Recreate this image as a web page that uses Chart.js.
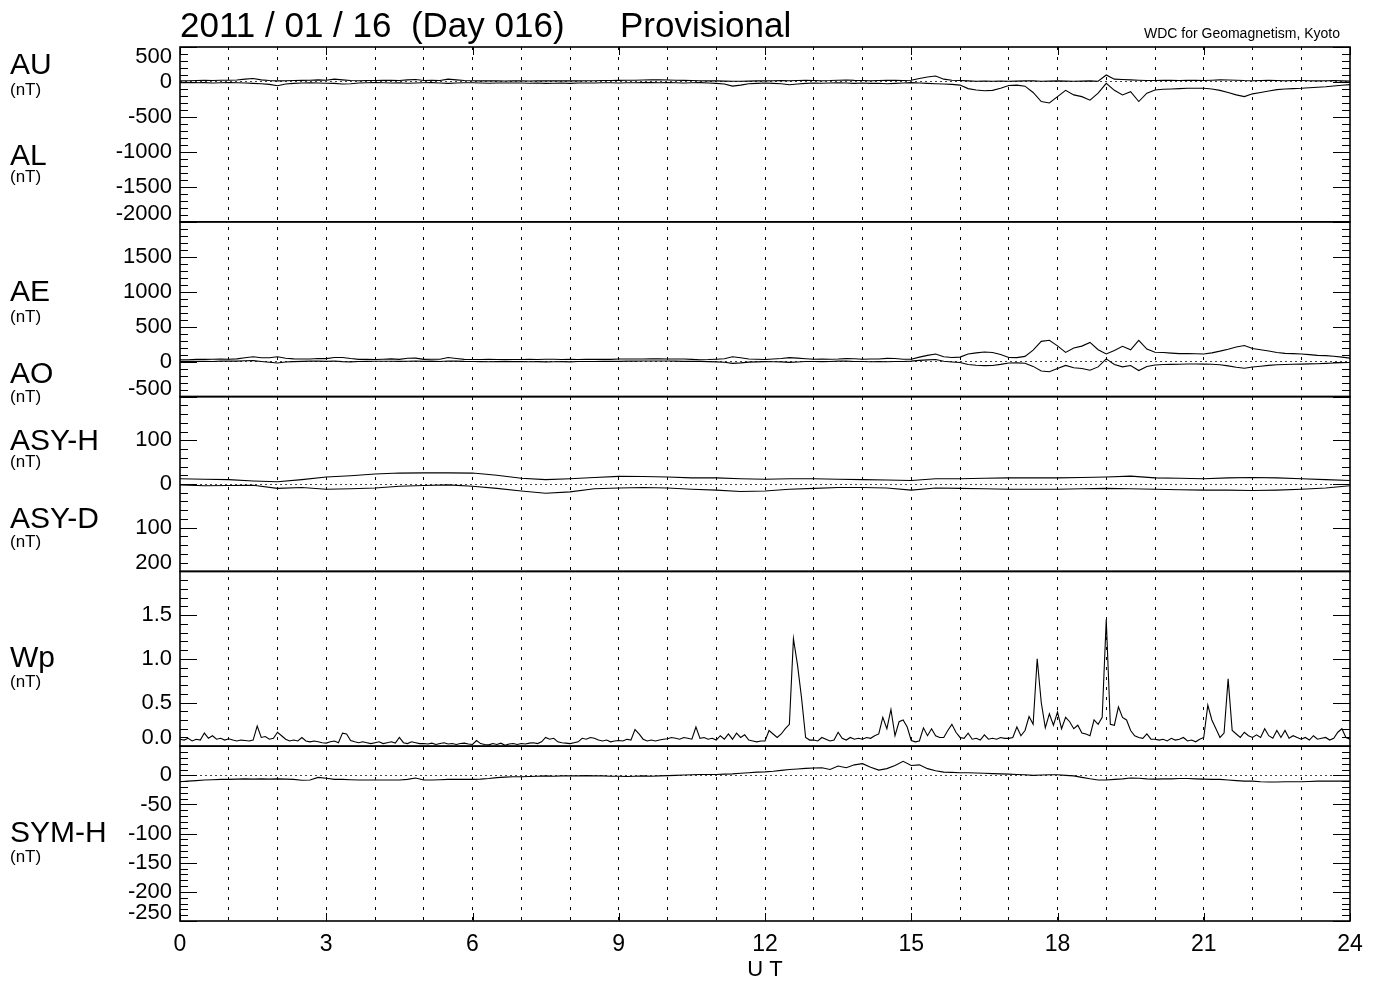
<!DOCTYPE html>
<html>
<head>
<meta charset="utf-8">
<title>AE / ASY / Wp / SYM-H 2011-01-16</title>
<script src="https://cdn.jsdelivr.net/npm/chart.js"></script>
<style>
	html, body { margin: 0; padding: 0; background: #fff; }
	#geo { display: block; }
</style>
</head>
<body>
<canvas id="geo" width="1382" height="984"></canvas>
<script>
// hours that carry a label on the UT axis
var utLabels = [0, 3, 6, 9, 12, 15, 18, 21, 24];

// y tick labels of each panel (ASY-D is drawn downward, shown without sign)
var auTicks = [500, 0, -500, -1000, -1500, -2000];
var aeTicks = [1500, 1000, 500, 0, -500];
var asyTicks = [100, 0, -100, -200];
var wpTicks = [0, 0.5, 1.0, 1.5];
var symTicks = [0, -50, -100, -150, -200, -250];

// AU (nT), every 10 min, 00:00 .. 24:00
var au = [
	15, 18, 20, 22, 20, 25,
	25, 28, 40, 50, 30, 20,
	15, 18, 20, 22, 25, 30,
	25, 40, 30, 20, 18, 20,
	20, 22, 25, 20, 30, 35,
	20, 25, 20, 40, 30, 20,
	18, 15, 15, 15, 14, 15,
	15, 14, 15, 15, 16, 15,
	15, 16, 18, 18, 20, 20,
	22, 25, 25, 28, 30, 30,
	28, 25, 22, 20, 18, 15,
	15, 12, 10, 10, 12, 15,
	15, 18, 20, 18, 20, 22,
	20, 18, 20, 25, 28, 22,
	20, 18, 20, 22, 25, 20,
	25, 50, 70, 85, 40, 25,
	20, 15, 10, 12, 10, 12,
	10, 12, 15, 15, 10, 12,
	15, 12, 10, 12, 15, 10,
	100, 40, 35, 30, 25, 20,
	20, 25, 22, 20, 25, 22,
	20, 25, 30, 28, 25, 20,
	18, 20, 22, 20, 18, 20,
	20, 18, 15, 18, 20, 15,
	12
];

// AL (nT), every 10 min
var al = [
	-10, -8, -12, -10, -15, -12,
	-10, -12, -15, -20, -25, -35,
	-55, -30, -20, -15, -12, -15,
	-18, -20, -30, -25, -15, -12,
	-10, -12, -15, -12, -18, -15,
	-12, -10, -15, -20, -15, -12,
	-12, -15, -18, -15, -15, -15,
	-15, -18, -15, -20, -18, -15,
	-20, -15, -15, -15, -12, -12,
	-15, -12, -12, -10, -10, -12,
	-10, -12, -15, -12, -10, -15,
	-20, -30, -60, -45, -25, -20,
	-15, -20, -25, -40, -30, -20,
	-15, -18, -15, -12, -15, -20,
	-15, -20, -18, -25, -20, -15,
	-10, -15, -20, -25, -30, -35,
	-45, -95, -115, -125, -120, -90,
	-50, -45, -60, -150, -280, -300,
	-210, -120, -185, -210, -260, -160,
	-20, -120, -185, -140, -280, -160,
	-115, -105, -100, -95, -90, -90,
	-90, -100, -120, -150, -185, -210,
	-170, -150, -130, -110, -100, -95,
	-90, -82, -75, -68, -58, -48,
	-38
];

// AE (nT), every 10 min
var ae = [
	25, 26, 32, 32, 35, 37,
	35, 40, 55, 70, 55, 55,
	70, 48, 40, 37, 37, 45,
	43, 60, 60, 45, 33, 32,
	30, 34, 40, 32, 48, 50,
	32, 35, 35, 60, 45, 32,
	30, 30, 33, 30, 29, 30,
	30, 32, 30, 35, 34, 30,
	35, 31, 33, 33, 32, 32,
	37, 37, 37, 38, 40, 42,
	38, 37, 37, 32, 28, 30,
	35, 42, 70, 55, 37, 35,
	30, 38, 45, 58, 50, 42,
	35, 36, 35, 37, 43, 42,
	35, 38, 38, 47, 45, 35,
	35, 65, 90, 110, 70, 60,
	65, 110, 125, 137, 130, 102,
	60, 57, 75, 165, 290, 305,
	225, 132, 195, 222, 275, 170,
	110, 160, 220, 170, 305, 180,
	135, 130, 122, 115, 115, 112,
	110, 125, 150, 178, 210, 230,
	188, 170, 152, 130, 118, 115,
	110, 100, 90, 86, 78, 64,
	50
];

// AO (nT), every 10 min
var ao = [
	3, 5, 4, 6, 3, 7,
	8, 8, 13, 15, 3, -8,
	-20, -6, 0, 4, 7, 8,
	4, 10, 0, -3, 2, 4,
	5, 5, 5, 4, 6, 10,
	4, 8, 3, 10, 8, 4,
	3, 0, -2, 0, 0, 0,
	0, -2, 0, -3, -1, 0,
	-3, 1, 2, 2, 4, 4,
	4, 7, 7, 9, 10, 9,
	9, 7, 4, 4, 4, 0,
	-3, -9, -25, -18, -7, -3,
	0, -1, -3, -11, -5, 1,
	3, 0, 3, 7, 7, 1,
	3, -1, 1, -2, 3, 3,
	8, 18, 25, 30, 5, -5,
	-13, -40, -52, -57, -55, -39,
	-20, -17, -22, -68, -135, -144,
	-98, -54, -88, -99, -123, -75,
	40, -40, -75, -55, -128, -70,
	-48, -40, -39, -37, -33, -34,
	-35, -38, -45, -61, -80, -95,
	-76, -65, -54, -45, -41, -37,
	-35, -32, -30, -25, -19, -16,
	-13
];

// ASY-H (nT), every 30 min
var asyH = [
	12, 11, 10, 7, 5, 10, 16, 19, 23, 25, 25.5, 25.5,
	25, 20, 13, 10, 12, 15, 17.5, 17, 16, 14, 14, 12,
	11, 12, 12, 11, 10, 9, 8, 12, 12, 13, 14, 14,
	14, 15, 16, 18, 14, 13, 12, 14, 15, 14, 12, 10,
	8
];

// ASY-D (nT), every 30 min
var asyD = [
	2, 4, 3.5, 3, 10, 8, 12, 11, 9, 5, 3.5, 2,
	5, 10, 16, 21, 18, 11, 9, 8, 9, 12, 14, 17,
	16, 12, 10, 8, 8, 9, 14, 9, 10, 11, 12, 12,
	12, 11, 10, 11, 12, 13, 14, 14, 15, 14, 12, 9,
	4
];

// Wp (nT), every 5 min
var wp = [
	0.08, 0.07, 0.09, 0.06, 0.08, 0.07, 0.15, 0.09, 0.12, 0.08, 0.09, 0.07,
	0.085, 0.07, 0.06, 0.07, 0.065, 0.06, 0.07, 0.23, 0.1, 0.11, 0.08, 0.09,
	0.16, 0.12, 0.08, 0.06, 0.07, 0.06, 0.1, 0.06, 0.05, 0.06, 0.05, 0.04,
	0.035, 0.05, 0.06, 0.04, 0.15, 0.14, 0.065, 0.05, 0.04, 0.05, 0.04, 0.03,
	0.04, 0.05, 0.03, 0.04, 0.05, 0.035, 0.1, 0.04, 0.03, 0.05, 0.04, 0.03,
	0.03, 0.025, 0.035, 0.02, 0.03, 0.04, 0.025, 0.03, 0.02, 0.03, 0.035, 0.025,
	0.02, 0.065, 0.03, 0.02, 0.015, 0.03, 0.02, 0.035, 0.01, 0.025, 0.03, 0.02,
	0.03, 0.025, 0.035, 0.04, 0.03, 0.05, 0.1, 0.08, 0.09, 0.05, 0.04, 0.035,
	0.03, 0.04, 0.05, 0.09, 0.08, 0.1, 0.09, 0.07, 0.06, 0.07, 0.05, 0.06,
	0.065, 0.06, 0.08, 0.07, 0.19, 0.14, 0.08, 0.06, 0.07, 0.06, 0.07, 0.08,
	0.085, 0.1, 0.09, 0.08, 0.1, 0.09, 0.08, 0.22, 0.09, 0.1, 0.08, 0.09,
	0.07, 0.12, 0.08, 0.14, 0.08, 0.15, 0.1, 0.13, 0.07, 0.06, 0.05, 0.06,
	0.06, 0.18, 0.14, 0.1, 0.14, 0.2, 0.25, 1.23, 0.93, 0.55, 0.1, 0.07,
	0.07, 0.06, 0.1, 0.08, 0.06, 0.07, 0.16, 0.09, 0.07, 0.1, 0.08, 0.09,
	0.08, 0.1, 0.09, 0.12, 0.14, 0.33, 0.2, 0.42, 0.12, 0.28, 0.3, 0.22,
	0.065, 0.05, 0.06, 0.21, 0.12, 0.2, 0.12, 0.1, 0.1, 0.18, 0.25, 0.16,
	0.1, 0.09, 0.15, 0.08, 0.09, 0.07, 0.13, 0.08, 0.09, 0.08, 0.1, 0.09,
	0.09, 0.1, 0.22, 0.12, 0.18, 0.34, 0.25, 1.0, 0.5, 0.21, 0.37, 0.24,
	0.39, 0.2, 0.33, 0.28, 0.2, 0.24, 0.15, 0.14, 0.12, 0.3, 0.25, 0.33,
	1.45, 0.25, 0.24, 0.45, 0.33, 0.3, 0.18, 0.12, 0.1, 0.09, 0.14, 0.08,
	0.08, 0.07, 0.08, 0.06, 0.09, 0.07, 0.08, 0.1, 0.06, 0.07, 0.05, 0.08,
	0.1, 0.47, 0.3, 0.2, 0.1, 0.15, 0.77, 0.18, 0.14, 0.1, 0.16, 0.12,
	0.1, 0.13, 0.1, 0.2, 0.12, 0.09, 0.18, 0.1, 0.18, 0.09, 0.12, 0.1,
	0.08, 0.1, 0.07, 0.12, 0.08, 0.09, 0.1, 0.07, 0.09, 0.16, 0.2, 0.1,
	0.08
];

// SYM-H (nT), every 10 min
var symH = [
	-11, -10, -9, -8, -7.5, -7,
	-7, -6.5, -6, -6.5, -6, -6.5,
	-6, -6.5, -7, -8.5, -8, -3.5,
	-5, -7, -7, -7.5, -8, -8,
	-8, -8, -8, -8, -7, -4.5,
	-8, -8, -7.5, -7, -7, -7,
	-7, -6.5, -5.5, -4, -3, -2.5,
	-2.5, -2, -1.5, -1, -1.5, -1,
	-1, -1, -0.5, -1, -1, -1.5,
	-1.5, -2, -1.5, -1, -1.5, -1,
	-0.5, 0, 0.5, 1, 1.5, 1.5,
	1.5, 2, 2.5, 3.5, 4.5, 5.5,
	6, 7, 8.5, 10, 11, 12,
	12.5, 13, 10, 16, 13, 18,
	20, 14, 9, 11.5, 17, 24,
	17, 18, 11.5, 8, 5.5, 5,
	4.5, 4.5, 4, 3.5, 3, 2.5,
	2, 1.5, 1, 0, 0.5, 1,
	1, 0, -1, -3.5, -6, -8,
	-8, -7, -6, -4.5, -5, -6,
	-6.5, -6, -6, -5.5, -5.5, -6,
	-6.5, -7, -7, -8, -9, -10,
	-10, -11, -11.5, -11.5, -11, -11,
	-11, -10.5, -10, -10, -10, -10,
	-10
];

(function(){
	'use strict';

	var FONT = '"Liberation Sans", Arial, Helvetica, sans-serif';
	Chart.defaults.font.family = FONT;
	Chart.defaults.color = '#000';

	// panel order top to bottom, higher layout weight sits higher in the stack
	var panels = [
		{id: 'yAU', min: -2000, max: 500, major: 500, minor: 100, ticks: auTicks, weight: 5, zero: true,
			label: function(v){ return String(v); }},
		{id: 'yAE', min: -500, max: 2000, major: 500, minor: 100, ticks: aeTicks, weight: 4, zero: true,
			label: function(v){ return String(v); }},
		{id: 'yASY', min: -200, max: 200, major: 100, minor: 20, ticks: asyTicks, weight: 3, zero: true,
			label: function(v){ return String(Math.abs(v)); }},
		{id: 'yWp', min: 0, max: 2, major: 0.5, minor: 0.1, ticks: wpTicks, weight: 2, zero: false,
			label: function(v){ return v.toFixed(1); }},
		{id: 'ySYM', min: -250, max: 50, major: 50, minor: 10, ticks: symTicks, weight: 1, zero: true,
			label: function(v){ return String(v); }}
	];

	var names = [
		['AU', 74, 95], ['AL', 165, 182],
		['AE', 301, 322], ['AO', 383, 402],
		['ASY-H', 450, 467], ['ASY-D', 528, 547],
		['Wp', 667, 687],
		['SYM-H', 842, 862]
	];

	function series(values, stepMin, sign){
		return values.map(function(v, i){
			return {x: i * stepMin / 60, y: sign * v};
		});
	}

	function line(data, axis){
		return {
			data: data,
			yAxisID: axis,
			borderColor: '#000',
			borderWidth: 1.1,
			pointRadius: 0,
			tension: 0,
			fill: false
		};
	}

	function yScale(p){
		return {
			type: 'linear',
			position: 'left',
			stack: 'ut',
			stackWeight: 1,
			weight: p.weight,
			min: p.min,
			max: p.max,
			afterBuildTicks: function(scale){
				scale.ticks = p.ticks.slice().sort(function(a, b){ return a - b; }).map(function(v){
					return {value: v};
				});
			},
			afterFit: function(scale){ scale.width = 180; },
			ticks: {padding: 8, autoSkip: false, font: {size: 22}, callback: p.label},
			grid: {
				drawTicks: false,
				lineWidth: 1,
				color: function(c){
					return (p.zero && c.tick && c.tick.value === 0) ? '#444' : 'rgba(0,0,0,0)';
				}
			},
			border: {display: false, dash: [2, 3]}
		};
	}

	// frame, inward tick marks and the texts round the panels
	var framePlugin = {
		id: 'frame',
		beforeDraw: function(chart){
			// keep the end labels of each panel inside it, as the original does
			panels.forEach(function(p){
				var s = chart.scales[p.id];
				s.getLabelItems().forEach(function(it){
					var t = it.options.translation;
					t[1] = Math.min(Math.max(t[1], s.top + 10), s.bottom - 8);
				});
			});
		},
		afterDraw: function(chart){
			var ctx = chart.ctx;
			var area = chart.chartArea;
			ctx.save();
			ctx.strokeStyle = '#000';

			panels.forEach(function(p){
				var s = chart.scales[p.id];
				var n = Math.round((p.max - p.min) / p.minor);
				ctx.lineWidth = 1;
				ctx.beginPath();
				for (var i = 0; i <= n; i++) {
					var v = p.min + i * p.minor;
					var y = Math.round(s.getPixelForValue(v)) + 0.5;
					var q = v / p.major;
					var len = Math.abs(q - Math.round(q)) < 1e-6 ? 17 : 8;
					ctx.moveTo(area.left, y);
					ctx.lineTo(area.left + len, y);
					ctx.moveTo(area.right, y);
					ctx.lineTo(area.right - len, y);
				}
				ctx.stroke();
				ctx.lineWidth = 1.6;
				ctx.strokeRect(area.left, s.top, area.right - area.left, s.bottom - s.top);
			});

			var xs = chart.scales.x;
			ctx.lineWidth = 1;
			ctx.beginPath();
			utLabels.forEach(function(h){
				var x = Math.round(xs.getPixelForValue(h)) + 0.5;
				ctx.moveTo(x, area.bottom);
				ctx.lineTo(x, area.bottom - 8);
				ctx.moveTo(x, area.top);
				ctx.lineTo(x, area.top + 8);
			});
			ctx.stroke();

			ctx.fillStyle = '#000';
			ctx.textBaseline = 'alphabetic';
			ctx.textAlign = 'left';
			names.forEach(function(nm){
				ctx.font = '30px ' + FONT;
				ctx.fillText(nm[0], 10, nm[1]);
				ctx.font = '17px ' + FONT;
				ctx.fillText('(nT)', 10, nm[2]);
			});

			ctx.font = '35px ' + FONT;
			ctx.fillText('2011 / 01 / 16  (Day 016)', 180, 37);
			ctx.fillText('Provisional', 620, 37);
			ctx.font = '14px ' + FONT;
			ctx.textAlign = 'right';
			ctx.fillText('WDC for Geomagnetism, Kyoto', 1340, 38);
			ctx.restore();
		}
	};

	var scales = {
		x: {
			type: 'linear',
			position: 'bottom',
			min: 0,
			max: 24,
			afterBuildTicks: function(scale){
				var t = [];
				for (var h = 0; h <= 24; h++) t.push({value: h});
				scale.ticks = t;
			},
			afterFit: function(scale){ scale.height = 63; },
			ticks: {
				autoSkip: false,
				maxRotation: 0,
				padding: 10,
				font: {size: 23},
				callback: function(v){ return utLabels.indexOf(v) >= 0 ? String(v) : ''; }
			},
			grid: {
				drawTicks: false,
				lineWidth: 1,
				color: function(c){
					return (c.tick && c.tick.value > 0 && c.tick.value < 24) ? '#000' : 'rgba(0,0,0,0)';
				}
			},
			border: {display: false, dash: [3, 7]},
			title: {display: true, text: 'U T', font: {size: 22}, padding: {top: 0, bottom: 1}}
		}
	};
	panels.forEach(function(p){ scales[p.id] = yScale(p); });

	new Chart(document.getElementById('geo'), {
		type: 'line',
		data: {
			datasets: [
				line(series(au, 10, 1), 'yAU'),
				line(series(al, 10, 1), 'yAU'),
				line(series(ae, 10, 1), 'yAE'),
				line(series(ao, 10, 1), 'yAE'),
				line(series(asyH, 30, 1), 'yASY'),
				line(series(asyD, 30, -1), 'yASY'),
				line(series(wp, 5, 1), 'yWp'),
				line(series(symH, 10, 1), 'ySYM')
			]
		},
		options: {
			responsive: false,
			animation: false,
			devicePixelRatio: 1,
			events: [],
			layout: {padding: {top: 47, right: 32, bottom: 0, left: 0}},
			plugins: {legend: {display: false}, tooltip: {enabled: false}},
			scales: scales
		},
		plugins: [framePlugin]
	});
})();
</script>
</body>
</html>
